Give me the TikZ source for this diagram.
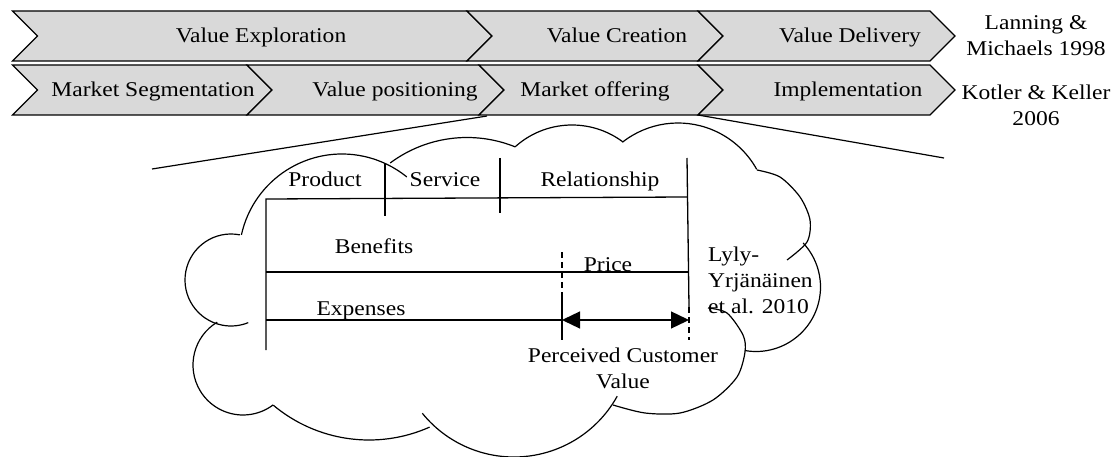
\documentclass[tikz,border=0pt]{standalone}
\usepackage{fontspec}
\setmainfont{Liberation Serif}[FakeStretch=1.12]
\usetikzlibrary{arrows.meta}

\begin{document}
\begin{tikzpicture}[x=1pt,y=-1pt,
  every node/.style={font=\fontsize{21}{26}\selectfont,inner sep=0pt},
  txt/.style={anchor=base},
  chev/.style={draw,line width=1.1pt,fill=black!15,line join=miter},
  bar/.style={line width=1.3pt},
  dsh/.style={line width=1.3pt,dash pattern=on 6pt off 4pt},
  lobe/.style={line width=1.2pt},
  tip/.style={line width=1.3pt,{Triangle[length=18pt,width=17pt]}-{Triangle[length=18pt,width=17pt]}}]
\useasboundingbox (0,0) rectangle (1118,457);

% process rows
\foreach \l/\r/\t in {12.5/467/11,467/698/11,698/930/11,12.5/247/65,247/479/65,479/698/65,698/930/65}
  \draw[chev] (\l,\t) -- (\r,\t) -- ++(25,25) -- ++(-25,25) -- (\l,\t+50) -- ++(25,-25) -- cycle;

\node[txt] (expl) at (261,43) {Value Exploration};
\node[txt] (crea) at (617,43) {Value Creation};
\node[txt] (deli) at (850,43) {Value Delivery};
\node[txt] (seg) at (153,97) {Market Segmentation};
\node[txt] (pos) at (395,97) {Value positioning};
\node[txt] (offer) at (595,97) {Market offering};
\node[txt] (impl) at (848,97) {Implementation};
\node[align=center] (lan) at (1036,36) {Lanning \&\\Michaels 1998};
\node[align=center] (kot) at (1036,105) {Kotler \& Keller\\2006};

% zoom lines
\coordinate (offbl) at (487,116);
\coordinate (offbr) at (698,115);
\coordinate (zl) at (152,169);
\coordinate (zr) at (944,158);
\draw[line width=1.2pt] (offbl) -- (zl);
\draw[line width=1.2pt] (offbr) -- (zr);

% cloud
\foreach \cx/\cy/\r/\a/\b in {231/280/46/-79/-292, 243/365/50/239/53, 369/291/149/130/66,
    514/339/118/141/29, 756/287/64.5/100/-43, 678/213/90/-128/-29, 572/210/85/-132/-53,
    467/266/128.5/-126.7/-68, 342/257/103/-167.6/-51}
  \draw[lobe] ([shift={(\a:\r)}]\cx,\cy) arc[start angle=\a,end angle=\b,radius=\r];
\draw[lobe] plot[smooth] coordinates {(708,308) (727,313) (743,335) (745,352) (737,377) (713,400) (680,413) (645,413) (613,405)};
\draw[lobe] plot[smooth] coordinates {(757,170) (780,177) (800,197) (810,220) (807,242) (787,260)};

% value bars
\draw[bar] (266,350) -- (266,199) -- (687,197);
\draw[bar] (687,158) -- (689,307);
\draw[dsh] (689,307) -- (689,340);
\draw[bar] (385,163) -- (385,216);
\draw[bar] (500,158) -- (500,213);
\draw[bar] (266,272) -- (689,272);
\draw[bar] (266,320) -- (562,320);
\draw[dsh] (562,252) -- (562,296);
\draw[bar] (562,296) -- (562,340);
\coordinate (pl) at (562,320);
\coordinate (pr) at (689,320);
\draw[tip] (pl) -- (pr);

\node[txt] (prod) at (325,186) {Product};
\node[txt] (serv) at (445,186) {Service};
\node[txt] (rel) at (600,186) {Relationship};
\node[txt] (ben) at (374,253) {Benefits};
\node[txt] (price) at (608,271) {Price};
\node[txt] (expn) at (361,315) {Expenses};
\node[align=center] (pcv) at (623,368) {Perceived Customer\\Value};
\node[align=left,anchor=west] (lyly) at (708,280) {Lyly-\\Yrjänäinen\\et al. 2010};
\end{tikzpicture}
\end{document}
